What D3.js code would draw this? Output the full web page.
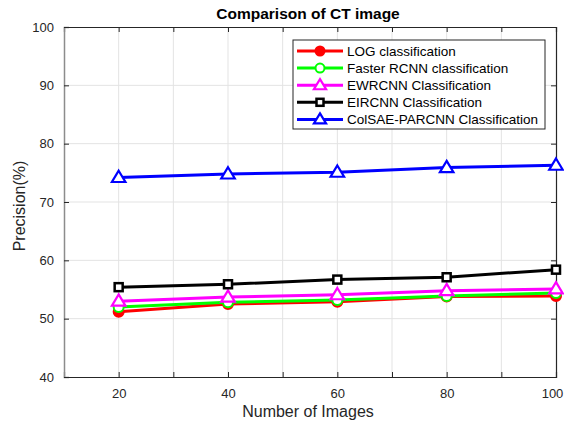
<!DOCTYPE html>
<html>
<head>
<meta charset="utf-8">
<script src="https://cdn.jsdelivr.net/npm/d3@7"></script>
<style>
  body { margin: 0; background: #fff; }
  text { font-family: "Liberation Sans", Arial, sans-serif; }
</style>
</head>
<body>
<svg id="chart" width="564" height="424"></svg>
<script>
// data
const images = [20, 40, 60, 80, 100]
const logVals = [51.2, 52.5, 52.9, 53.8, 53.9]
const fasterVals = [52.0, 52.8, 53.2, 53.9, 54.4]
const ewrVals = [53.0, 53.7, 54.1, 54.8, 55.1]
const eirVals = [55.4, 55.9, 56.7, 57.1, 58.4]
const colsaeVals = [74.2, 74.8, 75.1, 75.9, 76.3]
const seriesNames = ["LOG classification", "Faster RCNN classification", "EWRCNN Classification", "EIRCNN Classification", "ColSAE-PARCNN Classification"]
const yTicks = [40, 50, 60, 70, 80, 90, 100]
const xTicks = [10, 20, 30, 40, 50, 60, 70, 80, 90, 100]
const xLabels = [20, 40, 60, 80, 100]

const series = [
  { name: seriesNames[0], values: logVals, color: "#ff0000", marker: "circle", fill: "#ff0000" },
  { name: seriesNames[1], values: fasterVals, color: "#00ff00", marker: "circle", fill: "#fff" },
  { name: seriesNames[2], values: ewrVals, color: "#ff00ff", marker: "triangle", fill: "#fff" },
  { name: seriesNames[3], values: eirVals, color: "#000000", marker: "square", fill: "#fff" },
  { name: seriesNames[4], values: colsaeVals, color: "#0000ff", marker: "triangle", fill: "#fff" }
]

const svg = d3.select("#chart")
const plotLeft = 64, plotRight = 556, plotTop = 27, plotBottom = 377

const x = d3.scaleLinear().domain([10, 100]).range([plotLeft, plotRight])
const y = d3.scaleLinear().domain([40, 100]).range([plotBottom, plotTop])

// grid
svg.append("g").selectAll("line").data(xTicks.slice(1, -1)).join("line")
  .attr("x1", d => x(d)).attr("x2", d => x(d))
  .attr("y1", plotTop).attr("y2", plotBottom)
  .attr("stroke", "#e3e3e3").attr("stroke-width", 1)
svg.append("g").selectAll("line").data(yTicks.slice(1, -1)).join("line")
  .attr("x1", plotLeft).attr("x2", plotRight)
  .attr("y1", d => y(d)).attr("y2", d => y(d))
  .attr("stroke", "#e3e3e3").attr("stroke-width", 1)

// axes
const xAxis = d3.axisBottom(x).tickValues(xTicks).tickSize(-5).tickPadding(12)
  .tickFormat(d => xLabels.includes(d) ? d : "")
const gx = svg.append("g").attr("transform", `translate(0,${plotBottom})`).call(xAxis)
const xTop = d3.axisTop(x).tickValues(xTicks).tickSize(-5).tickFormat("")
const gxt = svg.append("g").attr("transform", `translate(0,${plotTop})`).call(xTop)
const yAxis = d3.axisLeft(y).tickValues(yTicks).tickSize(-5).tickPadding(10)
const gy = svg.append("g").attr("transform", `translate(${plotLeft},0)`).call(yAxis)
const yRight = d3.axisRight(y).tickValues(yTicks).tickSize(-5).tickFormat("")
const gyr = svg.append("g").attr("transform", `translate(${plotRight},0)`).call(yRight)

;[gx, gxt, gy, gyr].forEach(g => {
  g.select(".domain").attr("stroke", "#262626").attr("stroke-width", 1.2)
  g.selectAll(".tick line").attr("stroke", "#262626")
  g.selectAll(".tick text").attr("fill", "#262626").style("font-size", "13px")
})
gy.select(".domain").attr("stroke", "#8c8c8c").attr("stroke-width", 1.5)
// last x label sits a bit left of its tick so it stays inside the picture
gx.selectAll(".tick text").filter(d => d === 100).attr("dx", "-4")

// markers
function drawMarker(g, type, cx, cy, s, color, fill) {
  if (type === "circle") {
    g.append("circle").attr("cx", cx).attr("cy", cy).attr("r", s * 0.5)
      .attr("fill", fill).attr("stroke", color).attr("stroke-width", 2)
  } else if (type === "triangle") {
    const h = s * 0.9
    g.append("path")
      .attr("d", `M${cx},${cy - h * 0.75}L${cx + h * 0.75},${cy + h * 0.5}L${cx - h * 0.75},${cy + h * 0.5}Z`)
      .attr("fill", fill).attr("stroke", color).attr("stroke-width", 2.2)
  } else {
    g.append("rect").attr("x", cx - s / 2 + 1).attr("y", cy - s / 2 + 1)
      .attr("width", s - 2).attr("height", s - 2)
      .attr("fill", fill).attr("stroke", color).attr("stroke-width", 2.5)
  }
}

const line = d3.line().x((d, i) => x(images[i])).y(d => y(d))
series.forEach(s => {
  const g = svg.append("g")
  g.append("path").datum(s.values).attr("d", line)
    .attr("fill", "none").attr("stroke", s.color).attr("stroke-width", 3)
  s.values.forEach((v, i) => drawMarker(g, s.marker, x(images[i]), y(v), 10, s.color, s.fill))
})

// title and labels
svg.append("text").attr("x", (plotLeft + plotRight) / 2 - 2).attr("y", 19)
  .attr("text-anchor", "middle").style("font-size", "15.5px").style("font-weight", "bold")
  .attr("fill", "#000").text("Comparison of CT image")
svg.append("text").attr("x", (plotLeft + plotRight) / 2 - 2).attr("y", 417)
  .attr("text-anchor", "middle").style("font-size", "16px").attr("fill", "#262626")
  .text("Number of Images")
svg.append("text").attr("transform", `translate(25,${(plotTop + plotBottom) / 2 + 4}) rotate(-90)`)
  .attr("text-anchor", "middle").style("font-size", "16px").attr("fill", "#262626")
  .text("Precision(%)")

// legend
const lg = svg.append("g")
lg.append("rect").attr("x", 293).attr("y", 40).attr("width", 252).attr("height", 89)
  .attr("fill", "#fff").attr("stroke", "#262626").attr("stroke-width", 1)
series.forEach((s, i) => {
  const ly = 51 + i * 17.1
  lg.append("line").attr("x1", 297).attr("x2", 343).attr("y1", ly).attr("y2", ly)
    .attr("stroke", s.color).attr("stroke-width", 3)
  drawMarker(lg, s.marker, 320, ly, 9, s.color, s.fill)
  lg.append("text").attr("x", 347).attr("y", ly + 5).style("font-size", "13.5px")
    .attr("fill", "#000").text(s.name)
})
</script>
</body>
</html>
